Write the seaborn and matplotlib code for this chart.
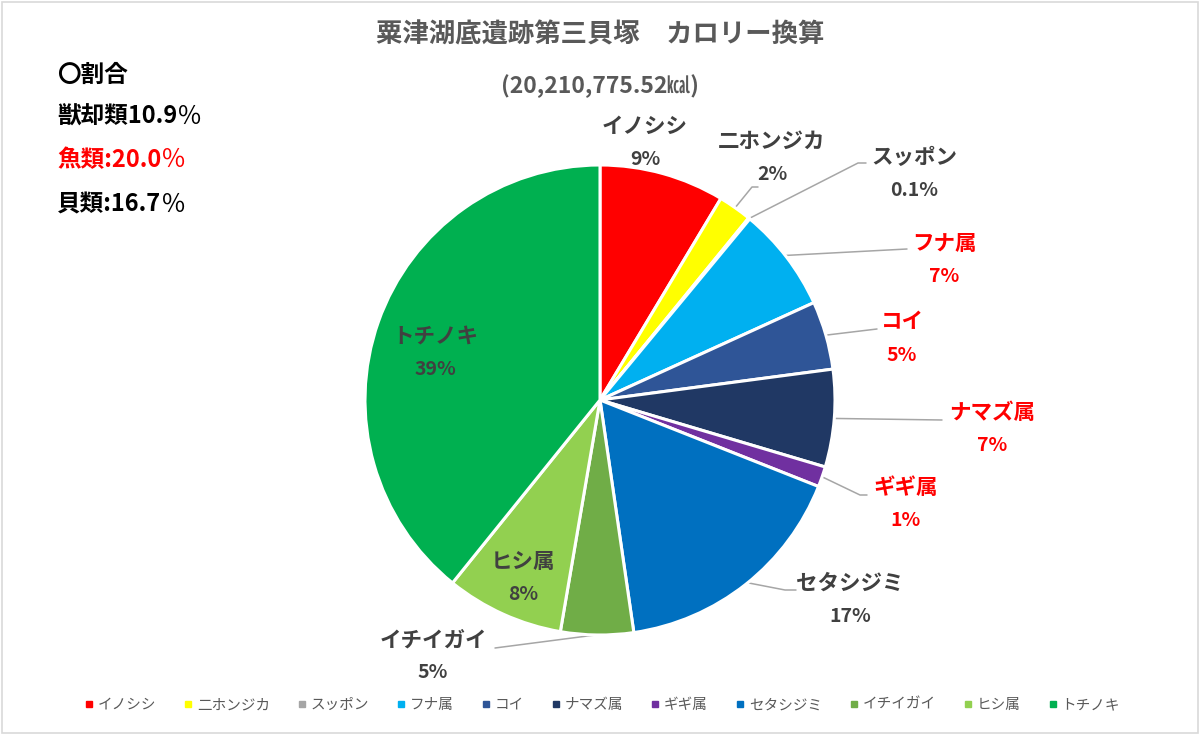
import numpy as np
import matplotlib
matplotlib.use("Agg")
import matplotlib.pyplot as plt
import seaborn as sns

sns.set_theme(style="white")
plt.rcParams["font.family"] = ["Noto Sans CJK JP", "DejaVu Sans"]

## data (percent of calories)
names = ["イノシシ", "二ホンジカ", "スッポン", "フナ属", "コイ", "ナマズ属",
         "ギギ属", "セタシジミ", "イチイガイ", "ヒシ属", "トチノキ"]
shares = [8.6, 2.3, 0.1, 7.2, 4.7, 6.7, 1.4, 16.7, 5.0, 8.1, 39.2]
pct_labels = ["9%", "2%", "0.1%", "7%", "5%", "7%", "1%", "17%", "5%", "8%", "39%"]
colors = ["#FF0000", "#FFFF00", "#A5A5A5", "#00B0F0", "#2F5597", "#203864",
          "#7030A0", "#0070C0", "#70AD47", "#92D050", "#00B050"]
fish = ["フナ属", "コイ", "ナマズ属", "ギギ属"]

title = "粟津湖底遺跡第三貝塚　カロリー換算"
subtitle = "(20,210,775.52㎉)"
notes = ["〇割合", "獣却類10.9", "魚類:20.0", "貝類:16.7"]
note_pct = ["", "％", "％", "％"]
note_colors = ["black", "black", "#FF0000", "black"]

W, H = 1200, 735
fig = plt.figure(figsize=(W / 100, H / 100), dpi=100)
ax = fig.add_axes([0, 0, 1, 1])

cx, cy, R = 600, H - 400, 235
wedges, _ = ax.pie(shares, colors=colors, startangle=90, counterclock=False,
                   center=(cx, cy), radius=R, frame=True,
                   wedgeprops=dict(edgecolor="white", linewidth=2.2))
ax.set_xlim(0, W)
ax.set_ylim(0, H)
ax.set_aspect("equal")
ax.axis("off")

# label anchor positions in pixel coords (x, y of name text)
label_pos = [(645, 126), (772, 141), (914, 157), (944, 243), (902, 322),
             (992, 412), (906, 488), (850, 583), (433, 640), (523, 561), (435, 336)]
leader_end = [None, (752, 187), (858, 163), (907, 249), (877, 329),
              (942, 420), (860, 495), (785, 590), (495, 648), None, None]
leader_hook = [None, (758, 187), (866, 163), None, None,
               None, (867, 495), (796, 590), None, None, None]
# where along the wedge (clockwise fraction) the leader leaves the rim
rim_frac = [0.5, 0.5, 0.5, 0.48, 0.5, 0.5, 0.5, 0.49, 0.52, 0.5, 0.5]

for i, w in enumerate(wedges):
    nx, ny = label_pos[i]
    col = "#FF0000" if names[i] in fish else "#404040"
    ax.text(nx, H - ny, names[i], ha="center", va="center", fontsize=15.5,
            fontweight="bold", color=col)
    ax.text(nx, H - ny - 33, pct_labels[i], ha="center", va="center",
            fontsize=14, fontweight="bold", color=col)
    if leader_end[i] is not None:
        t1, t2 = w.theta1, w.theta2
        ang = np.deg2rad(t2 - (t2 - t1) * rim_frac[i])
        sx, sy = cx + R * np.cos(ang), cy + R * np.sin(ang)
        ex, ey = leader_end[i]
        xs, ys = [sx, ex], [sy, H - ey]
        if leader_hook[i] is not None:
            xs.append(leader_hook[i][0])
            ys.append(H - leader_hook[i][1])
        ax.plot(xs, ys, color="#A6A6A6", lw=1.1, zorder=0.5)

fig.text(0.5, 1 - 35 / H, title, ha="center", va="center", fontsize=19,
         fontweight="bold", color="#595959")
fig.text(0.5, 1 - 86 / H, subtitle, ha="center", va="center", fontsize=16.5,
         fontweight="bold", color="#595959")

note_y = [75, 117, 160, 205]
fig.canvas.draw()
for k, (t, c) in enumerate(zip(notes, note_colors)):
    txt = fig.text(57 / W, 1 - note_y[k] / H, t, ha="left", va="center",
                   fontsize=17, fontweight="bold", color=c)
    if note_pct[k]:
        bb = txt.get_window_extent(renderer=fig.canvas.get_renderer())
        fig.text(bb.x1 / W, 1 - note_y[k] / H, note_pct[k], ha="left",
                 va="center", fontsize=18, color=c)

handles = [plt.Line2D([], [], marker="s", ls="", markersize=5,
                      markerfacecolor=c, markeredgecolor=c) for c in colors]
fig.legend(handles, names, loc="center", bbox_to_anchor=(0.5, 1 - 705 / H),
           ncol=len(names), frameon=False, fontsize=10.5, handletextpad=0.0,
           handlelength=1.2, columnspacing=1.6, labelcolor="#595959")

fig.patches.append(plt.Rectangle((0.002, 0.003), 0.996, 0.994, transform=fig.transFigure,
                                 fill=False, edgecolor="#D9D9D9", lw=1.2))
fig.savefig("out.png", dpi=100, facecolor="white")
